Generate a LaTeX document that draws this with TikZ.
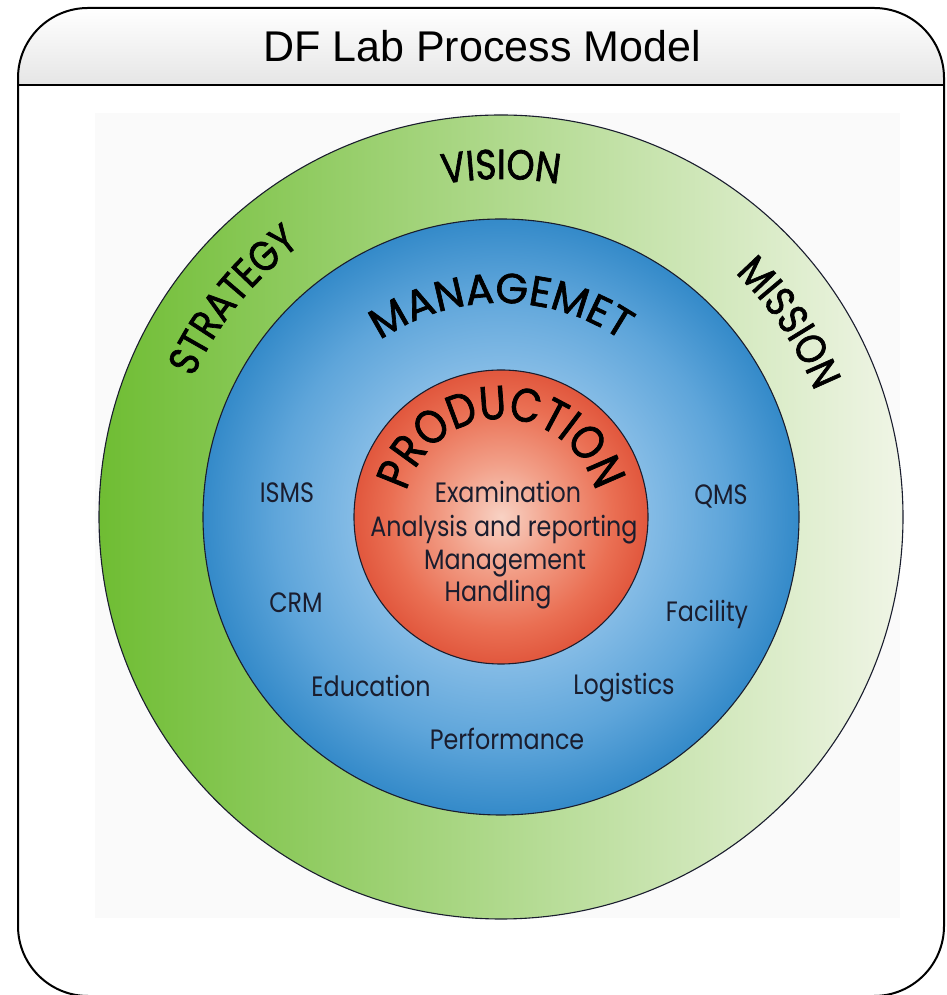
\documentclass[tikz,border=0pt]{standalone}
\usepackage{fontspec}
\setmainfont{Liberation Sans}
\newfontfamily\gothfont[FakeStretch=0.85]{Poppins}
\newfontfamily\headgothfont[FakeStretch=0.85, FakeBold=1.6]{Poppins}
\newfontfamily\wideheadfont[FakeBold=1.6]{Poppins}
\usetikzlibrary{decorations.text}
\definecolor{leafA}{HTML}{6FBD33}
\definecolor{leafB}{HTML}{AED585}
\definecolor{leafC}{HTML}{F0F5E6}
\definecolor{skyA}{HTML}{CFE5F6}
\definecolor{skyB}{HTML}{8CC0E8}
\definecolor{skyC}{HTML}{5EA5DA}
\definecolor{skyD}{HTML}{348AC9}
\definecolor{coralA}{HTML}{F8D2C4}
\definecolor{coralB}{HTML}{F2A089}
\definecolor{coralC}{HTML}{EA6F53}
\definecolor{coralD}{HTML}{E1573D}
\definecolor{inkline}{HTML}{1A1D2E}
\pgfdeclareradialshading{skyglow}{\pgfpoint{0bp}{0bp}}{color(0bp)=(skyA); color(11bp)=(skyB); color(19bp)=(skyC); color(25bp)=(skyD); color(50bp)=(skyD)}
\pgfdeclareradialshading{coralglow}{\pgfpoint{0bp}{0bp}}{color(0bp)=(coralA); color(9bp)=(coralB); color(19bp)=(coralC); color(25bp)=(coralD); color(50bp)=(coralD)}
\newcommand\ringfont{\headgothfont\fontsize{42}{46}\selectfont}
\newcommand\mgmtfont{\wideheadfont\fontsize{42}{46}\selectfont}
\newcommand\corefont{\headgothfont\fontsize{47}{50}\selectfont}

\begin{document}
\begin{tikzpicture}[x=1pt, y=1pt,
  ring/.style = {circle, draw=inkline, line width=1.1pt,
    inner sep=0pt, outer sep=0pt},
  lbl/.style = {anchor=base, inner sep=0pt, text=inkline,
    font=\gothfont\fontsize{28}{32}\selectfont},
  arctext/.style = {decorate, decoration={text along path,
    text align=center, text={#1}}}]
  \useasboundingbox (0,0) rectangle (946,995);
  \fill[black!2] (95,77) rectangle (900,882);
  \shade[top color=white, bottom color=black!10] (18,910) -- (18,917)
    arc[start angle=180, end angle=90, radius=70] -- (874,987)
    arc[start angle=90, end angle=0, radius=70] -- (944,910) -- cycle;
  \draw[line width=2pt] (18,910) -- (944,910);
  \draw[line width=2pt, rounded corners=70pt] (18,-1) rectangle (944,987);
  \node[anchor=base, inner sep=0pt, font=\fontsize{43}{48}\selectfont] (title)
    at (482,933) {DF Lab Process Model};

  \coordinate (C) at (501,478);
  \node[ring, minimum size=804pt, left color=leafA, middle color=leafB,
    right color=leafC] (vision) at (C) {};
  \node[ring, minimum size=596pt, shading=skyglow] (mgmt) at (C) {};
  \node[ring, minimum size=294pt, shading=coralglow] (core) at (C) {};

  \path[arctext={|\ringfont|VISION}] (C) ++(180:338)
    arc[start angle=180, end angle=0, radius=338];
  \path[arctext={|\ringfont|STRATEGY}] (C) ++(231:338)
    arc[start angle=231, end angle=51, radius=338];
  \path[arctext={|\ringfont|MISSION}] (C) ++(124:338)
    arc[start angle=124, end angle=-56, radius=338];
  \path[arctext={|\mgmtfont|MANAGEMET}] (C) ++(180:214)
    arc[start angle=180, end angle=0, radius=214];
  \path[arctext={|\corefont|PRODUCTION}] (C) ++(180:98)
    arc[start angle=180, end angle=0, radius=98];

  \node[lbl] (exam) at (508,492) {Examination};
  \node[lbl] (analysis) at (504,458) {Analysis and reporting};
  \node[lbl] (management) at (505,425) {Management};
  \node[lbl] (handling) at (498,393) {Handling};
  \node[lbl] (isms) at (287,492) {ISMS};
  \node[lbl] (qms) at (721,490) {QMS};
  \node[lbl] (crm) at (296,382) {CRM};
  \node[lbl] (facility) at (707,373) {Facility};
  \node[lbl] (education) at (371,298) {Education};
  \node[lbl] (logistics) at (624,300) {Logistics};
  \node[lbl] (performance) at (507,245) {Performance};
\end{tikzpicture}
\end{document}
